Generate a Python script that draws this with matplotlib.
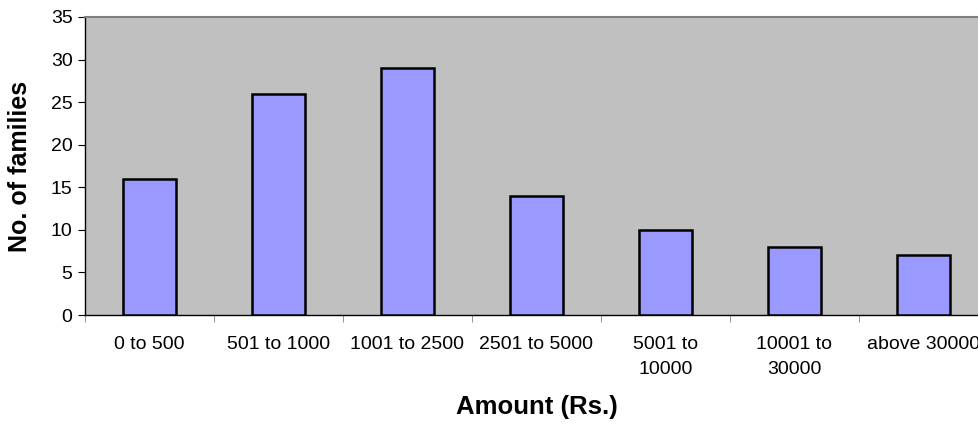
import matplotlib

matplotlib.use("Agg")
import matplotlib.pyplot as plt
import numpy as np

categories = ["0 to 500", "501 to 1000", "1001 to 2500", "2501 to 5000",
              "5001 to\n10000", "10001 to\n30000", "above 30000"]
families = [16, 26, 29, 14, 10, 8, 7]

plt.rcParams["font.family"] = ["Liberation Sans", "DejaVu Sans"]

W, H = 979, 424
fig = plt.figure(figsize=(W / 100, H / 100), dpi=100)
# plot area runs slightly past the right edge of the canvas
ax = fig.add_axes([85 / W, (H - 315) / H, 903 / W, 298 / H])
ax.set_facecolor("#c0c0c0")

x = np.arange(len(categories))
ax.bar(x, families, width=0.405, color="#9999ff", edgecolor="black", linewidth=1.8, zorder=3)

ax.set_xlim(-0.5, len(categories) - 0.5)
ax.set_ylim(0, 35)
ax.set_yticks(np.arange(0, 36, 5))

# category labels centered, tick marks between categories
ax.set_xticks(x)
ax.set_xticklabels(categories, fontsize=14, linespacing=1.6)
ax.tick_params(axis="x", length=0, pad=15)
ax.set_xticks(np.arange(-0.5, len(categories), 1), minor=True)
ax.tick_params(axis="x", which="minor", length=5, direction="out", color="#808080")
ax.tick_params(axis="y", length=5, direction="out", labelsize=14, color="black", pad=4)

for side in ["left", "bottom"]:
    ax.spines[side].set_color("black")
    ax.spines[side].set_linewidth(1.0)
ax.spines["top"].set_color("#808080")
ax.spines["top"].set_linewidth(1.5)
ax.spines["right"].set_visible(False)

ax.set_ylabel("No. of families", fontsize=18, fontweight="bold")
ax.yaxis.set_label_coords(-0.059, 0.5)
ax.set_xlabel("Amount (Rs.)", fontsize=18.5, fontweight="bold")
ax.xaxis.set_label_coords(0.5, -0.27)

fig.savefig("out.png", dpi=100)
